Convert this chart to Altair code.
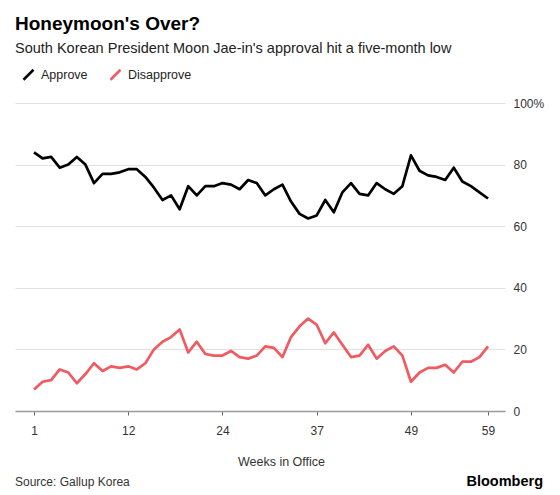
import altair as alt
import pandas as pd

FONT = "Liberation Sans"

weeks = [1, 2, 3, 4, 5, 6, 7, 8, 9, 10, 11, 12,
         13, 14, 15, 16, 17, 18, 19, 20, 22, 23, 24,
         25, 26, 27, 28, 29, 30, 31, 33, 34, 36, 37,
         38, 40, 41, 42, 43, 44, 45, 46, 47, 48, 49,
         50, 51, 52, 53, 54, 56, 57, 58, 59]

approve = [84, 82, 82.5, 79, 80, 82.5, 80, 74, 77, 77,
           77.5, 78.5, 78.5, 76, 72.5, 68.5, 70, 65.5, 73, 70,
           73, 73, 74, 73.5, 72, 75, 74, 70, 72, 73.5,
           68, 64, 62.5, 63.5, 68.5, 64.5, 71, 74, 70.5, 70,
           74, 72, 70.5, 73, 83, 78, 76.5, 76, 75, 79,
           74.5, 73, 71, 69]

disapprove = [7, 9.5, 10, 13.5, 12.5, 9, 12, 15.5, 13, 14.5,
              14, 14.5, 13.5, 15.5, 20, 22.5, 24, 26.5, 19, 22.5,
              18.5, 18, 18, 19.5, 17.5, 17, 18, 21, 20.5, 17.5,
              24, 27.5, 30, 28, 22, 25.5, 21.5, 17.5, 18, 21.5,
              17, 19.5, 21, 18, 9.5, 12.5, 14, 14, 15, 12.5,
              16, 16, 17.5, 21]

series_names = ["Approve", "Disapprove"]
series_colors = ["#000000", "#f05a60"]
x_tick_weeks = [1, 12, 24, 37, 49, 59]
y_tick_values = [0, 20, 40, 60, 80, 100]

title_text = "Honeymoon's Over?"
subtitle_text = "South Korean President Moon Jae-in's approval hit a five-month low"
source_text = "Source: Gallup Korea"
brand_text = "Bloomberg"
x_title = "Weeks in Office"

# Polls are evenly spaced along the axis (one slot per survey week)
rows = []
for i, (w, a, d) in enumerate(zip(weeks, approve, disapprove)):
    rows.append({"pos": i, "week": w, "series": series_names[0], "value": a})
    rows.append({"pos": i, "week": w, "series": series_names[1], "value": d})
df = pd.DataFrame(rows)

tick_pos = [weeks.index(w) for w in x_tick_weeks]
label_expr = "".join(f"datum.value == {p} ? '{w}' : " for p, w in zip(tick_pos, x_tick_weeks)) + "''"

lines = alt.Chart(df).mark_line(strokeWidth=2.7, strokeJoin="round").encode(
    x=alt.X("pos:Q",
            scale=alt.Scale(domain=[-2.22, len(weeks) - 1 + 1.98], nice=False, zero=False),
            axis=alt.Axis(values=tick_pos, labelExpr=label_expr, labelAngle=0, title=x_title,
                          domainColor="#9a9a9a", domainWidth=1.5,
                          tickColor="#666", tickSize=4, tickWidth=1,
                          labelPadding=10, labelFontSize=12, labelColor="#333",
                          titleFontSize=12.5, titleFontWeight="normal", titleColor="#333",
                          titleX=266, titleY=50, titleBaseline="middle",
                          titleAnchor="start", titleAlign="center",
                          grid=False)),
    y=alt.Y("value:Q",
            scale=alt.Scale(domain=[0, 100], nice=False, zero=True),
            axis=alt.Axis(orient="right", values=y_tick_values,
                          labelExpr="datum.value == 100 ? '100%' : datum.label",
                          grid=True, gridColor="#e2e2e2", gridWidth=1,
                          domain=False, ticks=False, labelPadding=8,
                          labelFontSize=12, labelColor="#333", labelAlign="left",
                          title=None)),
    color=alt.Color("series:N",
                    scale=alt.Scale(domain=series_names, range=series_colors),
                    legend=alt.Legend(orient="none", legendX=7, legendY=-35,
                                      direction="horizontal", title=None,
                                      symbolType="M-1,1L1,-1", symbolSize=100,
                                      symbolStrokeWidth=2.5,
                                      labelFontSize=12.5, labelColor="#222",
                                      labelFont=FONT, labelOffset=6,
                                      columnPadding=17, padding=0)),
)


def text_layer(txt, y, size, weight="normal", color="#222", align="left", x=0):
    return alt.Chart(pd.DataFrame({"t": [txt]})).mark_text(
        align=align, baseline="alphabetic", fontSize=size, fontWeight=weight,
        color=color, font=FONT
    ).encode(x=alt.value(x), y=alt.value(y), text="t:N")


chart = alt.layer(
    lines,
    text_layer(title_text, -73, 19, "bold", "#000"),
    text_layer(subtitle_text, -50, 14.5, "normal", "#222"),
    text_layer(source_text, 383, 12, "normal", "#333"),
    text_layer(brand_text, 383, 14.5, "bold", "#000", align="right", x=528),
).properties(
    width=490, height=308,
    autosize=alt.AutoSizeParams(type="none"),
    padding={"left": 7, "top": 95, "right": 47, "bottom": 80},
).configure_view(stroke=None).configure_axis(
    labelFont=FONT, titleFont=FONT
).configure_text(font=FONT)

chart.save("out.html", embed_options={"renderer": "svg", "actions": False})
